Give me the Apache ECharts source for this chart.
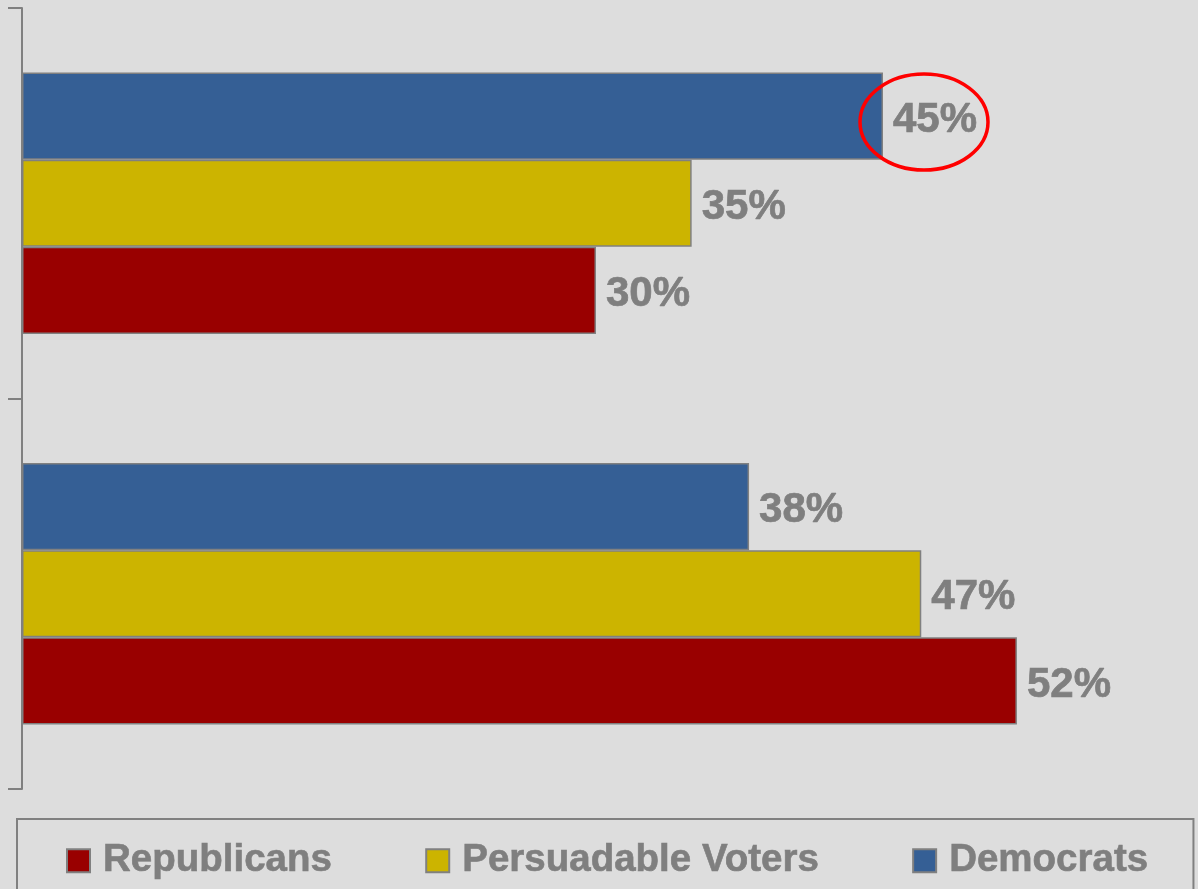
<!DOCTYPE html>
<html>
<head>
<meta charset="utf-8">
<script src="https://cdn.jsdelivr.net/npm/echarts@6/dist/echarts.min.js"></script>
<style>
html,body{margin:0;padding:0;background:#dddddd;}
#c{width:1198px;height:889px;}
</style>
</head>
<body>
<div id="c"></div>
<script>
// Categories (bottom to top on the axis)
var categories = ['Group B', 'Group A'];
var legendNames = ['Republicans', 'Persuadable Voters', 'Democrats'];
var republicans = [52, 30];
var persuadable = [47, 35];
var democrats = [38, 45];
var colors = { 'Republicans': '#990000', 'Persuadable Voters': '#ccb400', 'Democrats': '#355f95' };

var chart = echarts.init(document.getElementById('c'));
var FONT = "'Liberation Sans', Arial, sans-serif";
var labelStyle = {
  show: true,
  position: 'right',
  distance: 10,
  offset: [0, 4],
  formatter: '{c}%',
  color: '#7f7f7f',
  fontSize: 42,
  fontWeight: 'bold',
  fontFamily: FONT,
  textBorderColor: '#7f7f7f',
  textBorderWidth: 0.7
};
function mk(name, data) {
  return {
    name: name,
    type: 'bar',
    data: data,
    barGap: '0%',
    barCategoryGap: '33%',
    itemStyle: { color: colors[name], borderColor: '#808080', borderWidth: 1.5 },
    label: labelStyle,
    emphasis: { disabled: true },
    animation: false
  };
}
// Within each group the first series is drawn at the top
var seriesList = [
  mk('Democrats', democrats),
  mk('Persuadable Voters', persuadable),
  mk('Republicans', republicans)
];
var highlight = { series: 0, index: 1 }; // circled value: Democrats 45%

chart.setOption({
  backgroundColor: '#dddddd',
  animation: false,
  grid: { left: 22, right: 28, top: 8, bottom: 100, containLabel: false },
  xAxis: { type: 'value', min: 0, max: 60, show: false },
  yAxis: {
    type: 'category',
    data: categories,
    boundaryGap: true,
    axisLine: { show: true, lineStyle: { color: '#808080', width: 2 } },
    axisTick: { show: true, length: 14, lineStyle: { color: '#808080', width: 2 } },
    axisLabel: { show: false },
    splitLine: { show: false }
  },
  legend: {
    left: 17,
    top: 819,
    padding: [22, 45, 38, 49],
    borderColor: '#808080',
    borderWidth: 2,
    itemWidth: 23,
    itemHeight: 23,
    itemGap: 93,
    icon: 'rect',
    selectedMode: false,
    textStyle: {
      color: '#7f7f7f',
      fontSize: 38.5,
      fontWeight: 'bold',
      fontFamily: FONT,
      textBorderColor: '#7f7f7f',
      textBorderWidth: 0.6,
      padding: [0, 0, 0, 8]
    },
    data: legendNames
  },
  series: seriesList
});

// Red ellipse annotation around the highlighted value label, positioned from the bar layout
var lay = chart.getModel().getSeriesByIndex(highlight.series).getData().getItemLayout(highlight.index);
var barEnd = lay.x + lay.width;
var cy = lay.y + lay.height / 2;
chart.setOption({
  graphic: [{
    type: 'ellipse',
    shape: { cx: barEnd + 41, cy: cy + 6, rx: 64, ry: 48 },
    style: { fill: 'none', stroke: '#ff0000', lineWidth: 3.5 },
    silent: true,
    z: 100
  }]
});
</script>
</body>
</html>
